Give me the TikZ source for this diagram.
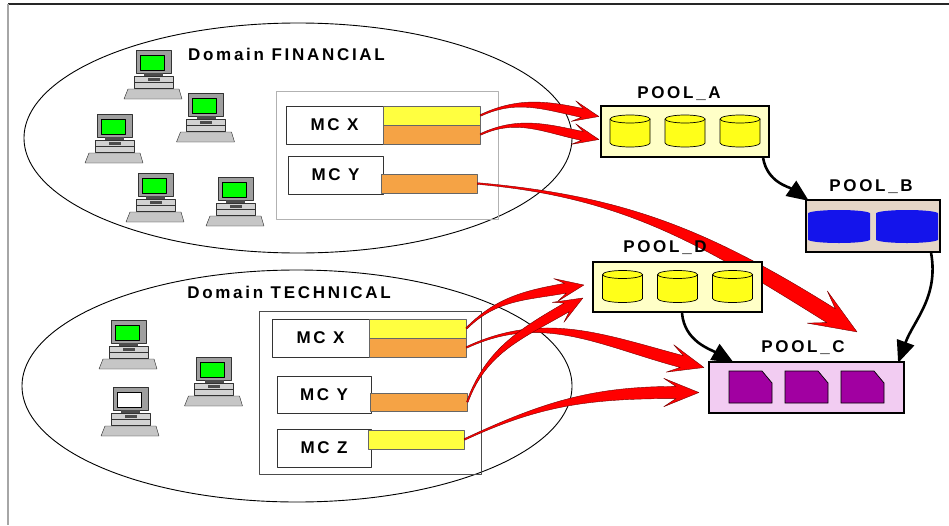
\documentclass[tikz,border=0pt]{standalone}
\usepackage{fontspec}
\setmainfont{Liberation Sans}
\newfontfamily\boxfont{Liberation Sans}[LetterSpace=16]
\usetikzlibrary{arrows.meta,calc}
\definecolor{poolyel}{rgb}{1,1,0.78}
\definecolor{diskyel}{rgb}{1,1,0.1}
\definecolor{baryel}{rgb}{1,1,0.25}
\definecolor{barorg}{rgb}{0.96,0.64,0.27}
\definecolor{poolbeige}{rgb}{0.9,0.84,0.78}
\definecolor{poolpink}{rgb}{0.95,0.8,0.95}
\definecolor{diskblue}{rgb}{0.08,0.08,0.92}
\definecolor{cartpurple}{rgb}{0.63,0,0.63}
\definecolor{screengreen}{rgb}{0,1,0}
\pgfdeclarelayer{front}
\pgfsetlayers{main,front}

\tikzset{
  lbl/.style={font=\boxfont\bfseries\fontsize{17pt}{19pt}\selectfont, inner sep=0pt},
  group/.style={draw, line width=0.8pt, inner sep=0pt},
  mcbox/.style={lbl, draw=black!80, line width=0.8pt, fill=white, minimum height=38pt},
  bar/.style={draw=black!60, line width=0.6pt, inner sep=0pt, minimum width=97pt, minimum height=19pt},
  pool/.style={draw, line width=2.2pt, inner sep=0pt, minimum height=51pt},
  link/.style={line width=2.6pt, -{Triangle[length=22pt,width=18pt]}},
  flowarrow/.style={fill=red, draw=red!45!black, line width=0.4pt},
  pics/pc/.style={code={
    \draw[fill=gray!75, draw=gray!40!black] (-17.5,0) rectangle (17.5,-23);
    \draw[fill=#1, draw=black] (-13.5,-5) rectangle (10.5,-20);
    \fill[black!70] (-9.5,-23) rectangle (9.5,-27);
    \draw[fill=gray!35, draw=gray!40!black] (-19.5,-26) rectangle (19.5,-38);
    \draw[gray!40!black] (-19.5,-32) -- (19.5,-32);
    \fill[black!70] (-6,-28) rectangle (6,-30.5);
    \draw[fill=gray!45, draw=black!85] (-25.5,-39) -- (25.5,-39) -- (28.5,-49) -- (-29.5,-49) -- cycle;
  }},
  pics/disk/.style={code={
    \draw[fill=#1, line width=0.7pt] (-20,12) -- (-20,-12) arc[start angle=180, end angle=360, x radius=20, y radius=4] -- (20,12);
    \draw[fill=#1, line width=0.7pt] (0,12) ellipse [x radius=20, y radius=4];
  }},
  pics/bluedisk/.style={code={
    \fill[diskblue] (-31,13) -- (-31,-13) arc[start angle=180, end angle=360, x radius=31, y radius=3.5]
      -- (31,13) arc[start angle=0, end angle=180, x radius=31, y radius=3.5] -- cycle;
  }},
  pics/cart/.style={code={
    \draw[fill=cartpurple, line width=0.7pt] (-21.5,16) -- (11.5,16) -- (21.5,4) -- (21.5,-16) -- (-21.5,-16) -- cycle;
  }}
}

% tapered red arrow: start, tip, out angle, tip angle, size
\newcommand\flow[5]{%
  \pgfmathsetmacro\fb{#4+180}
  \pgfmathsetmacro\fl{#4+90}
  \pgfmathsetmacro\fr{#4-90}
  \pgfmathsetmacro\sl{#3+90}
  \pgfmathsetmacro\sr{#3-90}
  \pgfmathsetmacro\fh{17*#5}
  \pgfmathsetmacro\fw{4.5*#5}
  \pgfmathsetmacro\fbarb{10.5*#5}
  \pgfmathsetmacro\fn{9*#5}
  \path (#2) ++(\fb:\fh) coordinate (fbase);
  \filldraw[flowarrow] ($(#1)+(\sl:0.8)$) to[out=#3,in=\fb] ($(fbase)+(\fl:\fw)$)
    -- ($(fbase)+(\fl:\fbarb)+(\fb:\fn)$) -- (#2)
    -- ($(fbase)+(\fr:\fbarb)+(\fb:\fn)$) -- ($(fbase)+(\fr:\fw)$)
    to[out=\fb,in=#3] ($(#1)+(\sr:0.8)$) -- cycle;
}

\begin{document}
\begin{tikzpicture}[x=1pt,y=1pt,line join=round]
  \useasboundingbox (0,0) rectangle (949,-525);
  \draw[black!85, line width=1.2pt] (8,-4) -- (949,-4);
  \draw[gray!70, line width=1.2pt] (8,-4) -- (8,-525);

  % the two domains
  \draw[line width=0.9pt] (298,-138) ellipse [x radius=274, y radius=115];
  \draw[line width=0.9pt] (297,-386) ellipse [x radius=275, y radius=116];
  \node[lbl, anchor=base] (finName) at (286.5,-60) {Domain FINANCIAL};
  \node[lbl, anchor=base] (techName) at (289,-298) {Domain TECHNICAL};

  % workstations
  \foreach \x/\y in {153.5/50, 206/93, 114.5/114, 155.5/173, 235.5/177, 128.5/320, 214/357}
    \pic at (\x,-\y) {pc=screengreen};
  \pic at (130.5,-387) {pc=white};

  % machine groups
  \node[group, draw=gray!60, minimum width=222pt, minimum height=128pt] (finBox) at (387,-155) {};
  \node[group, draw=black!70, minimum width=222pt, minimum height=163pt] (techBox) at (370,-392.5) {};

  \node[mcbox, minimum width=97pt] (finX) at (334.5,-125) {MC X};
  \node[bar, fill=baryel] (finXa) at (431.5,-115.5) {};
  \node[bar, fill=barorg] (finXb) at (431.5,-134.5) {};
  \node[mcbox, minimum width=95pt] (finY) at (335.5,-175) {MC Y};
  \node[bar, fill=barorg, minimum width=96pt] (finYa) at (429,-183.5) {};

  \node[mcbox, minimum width=97pt] (techX) at (320.5,-338) {MC X};
  \node[bar, fill=baryel] (techXa) at (417.5,-328.5) {};
  \node[bar, fill=barorg] (techXb) at (417.5,-347.5) {};
  \node[mcbox, minimum width=94pt, minimum height=37pt] (techY) at (324,-394.5) {MC Y};
  \node[bar, fill=barorg, minimum height=18pt] (techYa) at (418.5,-402) {};
  \node[mcbox, minimum width=94pt] (techZ) at (324,-448) {MC Z};
  \node[bar, fill=baryel, minimum width=96pt] (techZa) at (416,-439.5) {};

  % storage pools
  \begin{pgfonlayer}{front}
    \node[pool, fill=poolyel, minimum width=168pt] (poolA) at (685,-131.5) {};
    \node[pool, fill=poolbeige, minimum width=134pt, minimum height=52pt] (poolB) at (873,-226) {};
    \node[pool, fill=poolyel, minimum width=169pt, minimum height=50pt] (poolD) at (677.5,-287) {};
    \node[pool, fill=poolpink, minimum width=195pt] (poolC) at (806.5,-387.5) {};
    \foreach \dx in {-55,0,55} {
      \pic at ($(poolA)+(\dx,0.5)$) {disk=diskyel};
      \pic at ($(poolD)+(\dx,0.5)$) {disk=diskyel};
    }
    \foreach \dx in {-34,34}
      \pic at ($(poolB)+(\dx,-0.5)$) {bluedisk};
    \foreach \dx in {-56,0,56}
      \pic at ($(poolC)+(\dx,0.5)$) {cart};
    \node[lbl, anchor=base] (nameA) at (679,-98) {POOL\_A};
    \node[lbl, anchor=base] (nameB) at (871,-191) {POOL\_B};
    \node[lbl, anchor=base] (nameD) at (665,-252) {POOL\_D};
    \node[lbl, anchor=base] (nameC) at (803,-352) {POOL\_C};

    \draw[link] ($(poolA.south east)+(-7,0)$) to[out=-80,in=145] ($(poolB.north west)+(4,-2)$);
    \draw[link] ($(poolD.south)+(4.5,0)$) to[out=-85,in=150] ($(poolC.north west)+(26,-2)$);
    \draw[link] ($(poolB.south east)+(-10,0)$) to[out=-80,in=70] ($(poolC.north east)+(-7,-2)$);
  \end{pgfonlayer}

  % data flows
  \coordinate (inA1) at ($(poolA.west)+(-1,15)$);
  \coordinate (inA2) at ($(poolA.west)+(-1,-8)$);
  \coordinate (inC1) at ($(poolC.north)+(50.5,29)$);
  \coordinate (inD1) at ($(poolD.west)+(-8,2)$);
  \coordinate (inC2) at ($(poolC.west)+(-4,20)$);
  \coordinate (inD2) at ($(poolD.west)+(-9,-11)$);
  \coordinate (inC3) at ($(poolC.west)+(-9,-5)$);
  \flow{finXa.east}{inA1}{25}{-12}{1}
  \flow{finXb.east}{inA2}{25}{-12}{1}
  \flow{finYa.east}{inC1}{-5}{-32}{1.8}
  \flow{techXa.east}{inD1}{45}{10}{1.1}
  \flow{techXb.east}{inC2}{25}{-15}{1.35}
  \flow{techYa.east}{inD2}{70}{30}{1.1}
  \flow{techZa.east}{inC3}{25}{0}{1.35}
\end{tikzpicture}
\end{document}
